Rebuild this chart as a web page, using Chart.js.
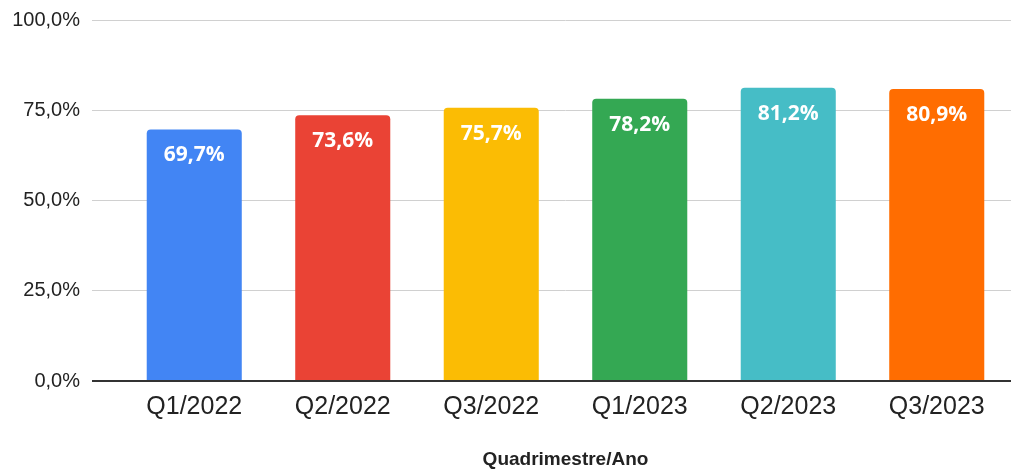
<!DOCTYPE html>
<html lang="pt">
<head>
<meta charset="utf-8">
<title>Quadrimestre/Ano</title>
<script src="https://cdn.jsdelivr.net/npm/chart.js"></script>
<style>
  html, body { margin: 0; padding: 0; background: #fff; }
  #wrap { width: 1029px; height: 469px; }
</style>
</head>
<body>
<div id="wrap"><canvas id="myChart" width="1029" height="469"></canvas></div>
<script>
  const categories = ['Q1/2022', 'Q2/2022', 'Q3/2022', 'Q1/2023', 'Q2/2023', 'Q3/2023'];
  const values = [69.7, 73.6, 75.7, 78.2, 81.2, 80.9];
  const barColors = ['#4285F4', '#EA4335', '#FBBC04', '#34A853', '#46BDC6', '#FF6D01'];
  const yTicks = [0, 25, 50, 75, 100];

  function pct(v) {
    return v.toFixed(1).replace('.', ',') + '%';
  }

  // white labels inside top of bars
  const barLabels = {
    id: 'barLabels',
    afterDatasetsDraw(chart) {
      const ctx = chart.ctx;
      const meta = chart.getDatasetMeta(0);
      ctx.save();
      ctx.fillStyle = '#ffffff';
      ctx.font = 'bold 21px "Open Sans", Roboto, sans-serif';
      ctx.textAlign = 'center';
      ctx.textBaseline = 'middle';
      meta.data.forEach(function (bar, i) {
        ctx.fillText(pct(values[i]), bar.x, bar.y + 26);
      });
      ctx.restore();
    }
  };

  let dataobj = {
    type: 'bar',
    data: {
      labels: categories,
      datasets: [{
        data: values,
        backgroundColor: barColors,
        borderRadius: { topLeft: 4, topRight: 4 },
        borderSkipped: false,
        barPercentage: 0.64,
        categoryPercentage: 1.0
      }]
    },
    options: {
      responsive: false,
      animation: false,
      layout: { padding: { top: 20, right: 18, left: 0, bottom: 0 } },
      plugins: {
        legend: { display: false },
        tooltip: { enabled: false }
      },
      scales: {
        y: {
          min: 0,
          max: 100,
          afterBuildTicks: function (scale) {
            scale.ticks = yTicks.map(v => ({ value: v }));
          },
          afterFit: function (scale) {
            scale.width = 120;
            scale.paddingTop = 0;
            scale.paddingBottom = 0;
          },
          border: { display: false },
          grid: {
            color: ctx => ctx.tick && ctx.tick.value === 0 ? '#333333' : '#d0d0d0',
            lineWidth: ctx => ctx.tick && ctx.tick.value === 0 ? 2 : 1,
            tickColor: ctx => ctx.tick && ctx.tick.value === 0 ? '#333333' : '#d0d0d0',
            tickLength: 28
          },
          ticks: {
            padding: 12,
            color: '#222222',
            font: { family: '"Liberation Sans", Arial, sans-serif', size: 20 },
            callback: v => pct(v)
          }
        },
        x: {
          afterFit: function (scale) { scale.height = 88; },
          border: { display: false },
          grid: { display: false, drawTicks: false },
          ticks: {
            padding: 11,
            color: '#222222',
            font: { family: '"Liberation Sans", Arial, sans-serif', size: 25 }
          },
          title: {
            display: true,
            text: 'Quadrimestre/Ano',
            color: '#222222',
            font: { family: '"Liberation Sans", Arial, sans-serif', size: 19, weight: 'bold', lineHeight: 1.0 },
            padding: { top: 0, bottom: 0 }
          }
        }
      }
    },
    plugins: [barLabels]
  };

  var ctx = document.getElementById('myChart').getContext('2d');
  window.myBar = new Chart(ctx, dataobj);
</script>
</body>
</html>
